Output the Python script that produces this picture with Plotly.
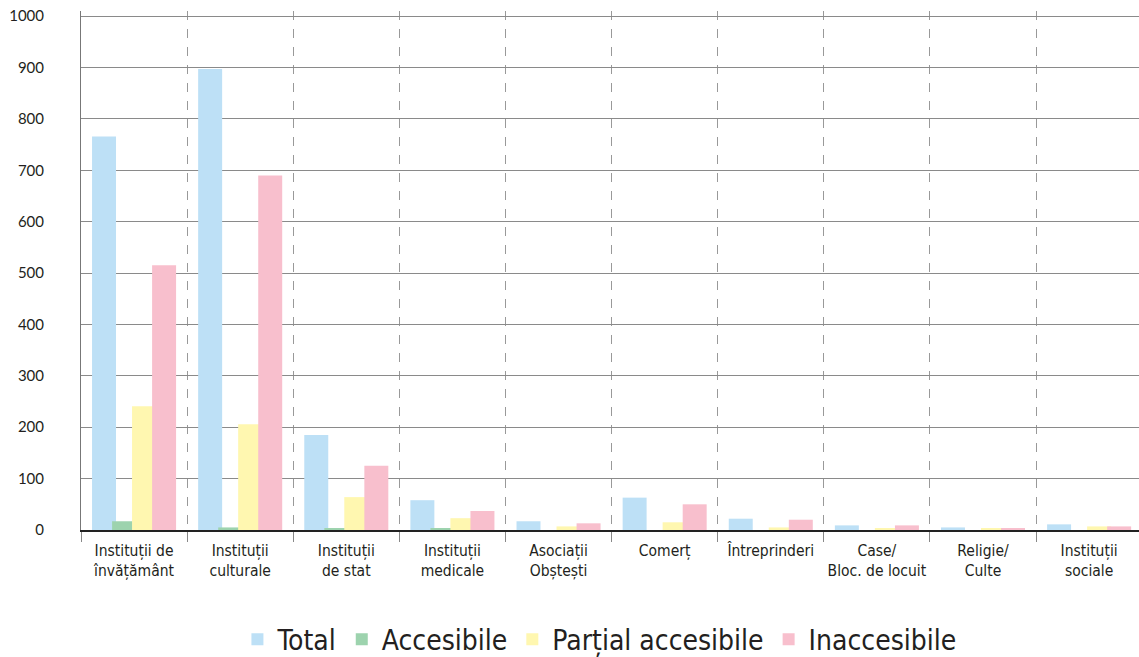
import plotly.graph_objects as go

categories = ["Instituții de<br>învățământ", "Instituții<br>culturale", "Instituții<br>de stat",
              "Instituții<br>medicale", "Asociații<br>Obștești", "Comerț", "Întreprinderi",
              "Case/<br>Bloc. de locuit", "Religie/<br>Culte", "Instituții<br>sociale"]
total = [766, 897, 185, 58, 17, 63, 22, 9, 5, 11]
accesibile = [17, 5, 3, 3, 0, 0, 0, 0, 0, 0]
partial = [241, 206, 64, 23, 7, 15, 5, 3, 2, 7]
inaccesibile = [515, 690, 125, 37, 13, 50, 20, 9, 2, 7]

series = [
    ("Total", total, "#bde0f6"),
    ("Accesibile", accesibile, "#9dd3ae"),
    ("Parțial accesibile", partial, "#fff7b0"),
    ("Inaccesibile", inaccesibile, "#f8bfcd"),
]
width = 0.226
offsets = [-0.396, -0.207, -0.019, 0.170]

COND = "DejaVu Sans Condensed, Roboto, sans-serif"

fig = go.Figure()
for (name, vals, color), off in zip(series, offsets):
    fig.add_trace(go.Bar(x=categories, y=vals, name=name, marker_color=color,
                         marker_line_width=0, width=width, offset=off))

fig.update_layout(
    width=1139, height=657,
    barmode="overlay",
    plot_bgcolor="white", paper_bgcolor="white",
    margin=dict(l=81, r=0, t=11, b=127, autoexpand=False),
    showlegend=True,
    legend=dict(orientation="h", x=0.49, xanchor="center", y=-0.163, yanchor="top",
                font=dict(family=COND, size=28, color="#231f20"),
                itemwidth=30, traceorder="normal"),
    font=dict(family=COND, color="#231f20"),
)
fig.update_xaxes(
    range=[-0.5, 9.47], tickson="boundaries", ticks="outside", ticklen=10,
    tickcolor="#888888", showgrid=True, gridcolor="#999999", griddash="dash", gridwidth=1,
    showline=True, linecolor="#222222", linewidth=2, automargin=False,
    ticklabelstandoff=5,
    tickfont=dict(family=COND, size=15.5, color="#231f20"),
    tickangle=0,
)
fig.update_yaxes(
    range=[0, 1010], tickvals=list(range(0, 1001, 100)), showgrid=True, gridcolor="#8a8a8a",
    gridwidth=1, showline=True, linecolor="#777777", linewidth=1, zeroline=False,
    ticks="", ticklabelstandoff=33, automargin=False, ticklabeloverflow="allow",
    tickfont=dict(family="Lato", size=15, color="#231f20"),
)
fig.write_html("out.html", config={"displayModeBar": False},
               post_script="document.body.style.margin='0';document.body.style.overflow='hidden';")
